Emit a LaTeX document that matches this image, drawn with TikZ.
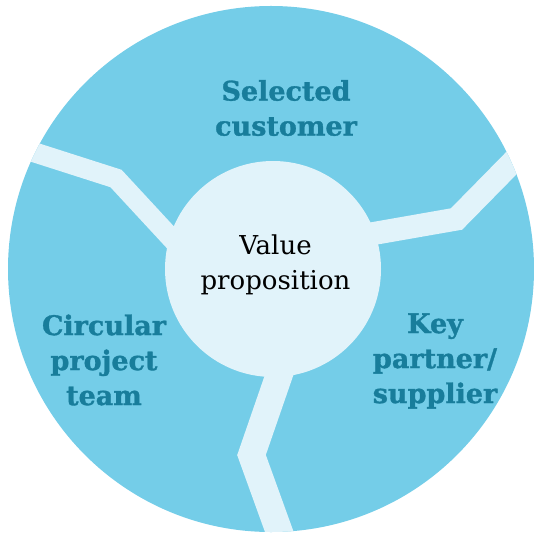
\documentclass[tikz,border=0pt]{standalone}
\usepackage{fontspec}
\setmainfont{DejaVu Serif}[BoldFeatures={FakeBold=1.2}]
\definecolor{outerblue}{RGB}{116,205,232}
\definecolor{paleblue}{RGB}{225,243,250}
\definecolor{labelteal}{RGB}{24,125,155}
\begin{document}
\begin{tikzpicture}[x=1pt,y=-1pt,
  band/.style={draw=paleblue,line join=miter,line cap=butt},
  seglabel/.style={text=labelteal,font=\fontsize{27}{35}\selectfont\bfseries,align=center,inner sep=0pt},
  centerlabel/.style={text=black,font=\fontsize{26}{35}\selectfont,align=center,inner sep=0pt}]
\useasboundingbox (0,0) rectangle (534,534);
\coordinate (O) at (271,269);
\fill[outerblue] (O) circle[radius=263];
\begin{scope}
  \clip (O) circle[radius=263];
  \coordinate (l0) at (2,142);
  \coordinate (l1) at (116,178.5);
  \coordinate (l2) at (184,252);
  \coordinate (r0) at (348,238);
  \coordinate (r1) at (456.5,219);
  \coordinate (r2) at (541,133);
  \coordinate (b0) at (294,332);
  \coordinate (b1) at (251.5,455);
  \coordinate (b2) at (288,556);
  \draw[band,line width=20pt] (l0) -- (l1) -- (l2);
  \draw[band,line width=23pt] (r0) -- (r1) -- (r2);
  \draw[band,line width=27pt] (b0) -- (b1) -- (b2);
\end{scope}
\node[circle,fill=paleblue,minimum size=216pt,inner sep=0pt] (vp) at (273,269) {};
\node[centerlabel] (vpt) at (275.5,265) {Value\\proposition};
\node[seglabel] (sc) at (286,108) {Selected\\customer};
\node[seglabel] (cp) at (104,360) {Circular\\project\\team};
\node[seglabel] (kp) at (435,361) {Key\\partner/\\supplier};
\end{tikzpicture}
\end{document}
